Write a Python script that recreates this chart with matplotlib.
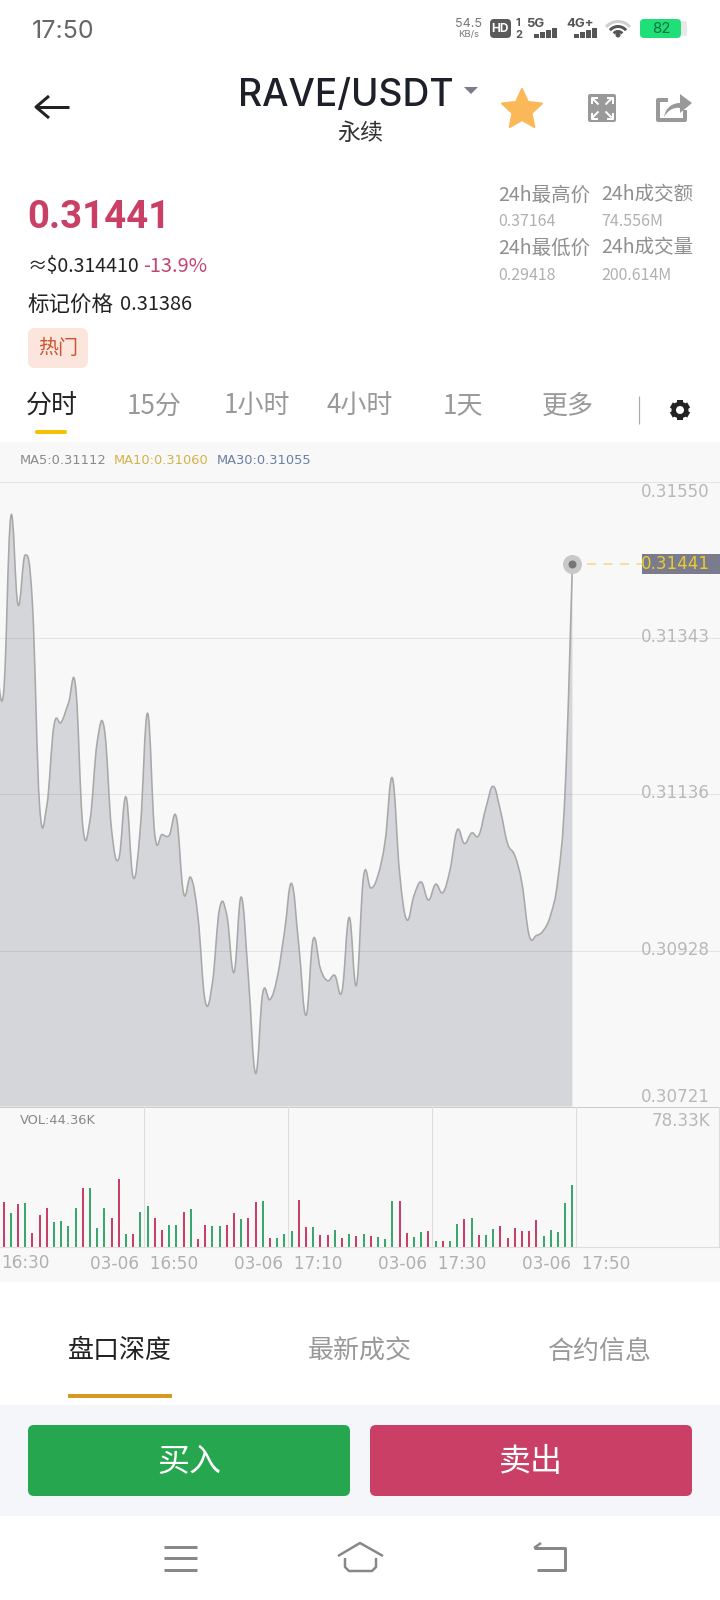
import numpy as np
import matplotlib
matplotlib.use('Agg')
import matplotlib.pyplot as plt
from matplotlib.patches import Rectangle, FancyBboxPatch, Polygon, Circle, PathPatch
from matplotlib.path import Path

CJK = ['Noto Sans CJK SC', 'DejaVu Sans']
plt.rcParams['font.family'] = CJK

# price every minute, first one sits just left of the screen
minutes = list(range(-1, 80))
prices = [0.31314,
          0.31270, 0.31504, 0.31387, 0.31453, 0.31389, 0.31120, 0.31120, 0.31227, 0.31231, 0.31256,
          0.31279, 0.31093, 0.31101, 0.31205, 0.31222, 0.31088, 0.31050, 0.31132, 0.31025, 0.31092,
          0.31243, 0.31082, 0.31082, 0.31081, 0.31105, 0.31004, 0.31025, 0.30972, 0.30861, 0.30885,
          0.30984, 0.30975, 0.30899, 0.30999, 0.30892, 0.30765, 0.30872, 0.30863, 0.30892, 0.30952,
          0.31017, 0.30935, 0.30842, 0.30943, 0.30904, 0.30888, 0.30895, 0.30874, 0.30972, 0.30882,
          0.31027, 0.31011, 0.31028, 0.31074, 0.31157, 0.31031, 0.30969, 0.31001, 0.31019, 0.30995,
          0.31016, 0.31005, 0.31035, 0.31088, 0.31070, 0.31084, 0.31081, 0.31118, 0.31146, 0.31114,
          0.31070, 0.31054, 0.31017, 0.30948, 0.30948, 0.30955, 0.30976, 0.31024, 0.31143, 0.31441]

# volume in K, 1 = red bar, 0 = green bar
volumes = [32.4, 24.7, 30.7, 31.9, 10.3, 22.8, 27.8, 18.0, 18.5, 14.9,
           28.3, 42.4, 42.4, 13.9, 27.8, 20.9, 49.1, 9.1, 9.6, 24.9,
           29.5, 20.9, 12.0, 15.6, 15.6, 24.9, 27.3, 6.0, 16.1, 15.3,
           15.3, 15.6, 24.7, 20.4, 21.1, 32.4, 32.8, 6.2, 6.2, 9.6,
           11.7, 33.6, 14.1, 14.6, 8.6, 8.6, 12.0, 6.2, 9.1, 7.7,
           9.3, 7.7, 7.0, 5.5, 33.3, 33.3, 10.3, 7.0, 11.0, 11.5,
           4.1, 4.3, 4.3, 16.8, 20.4, 21.1, 8.6, 8.9, 12.7, 15.3,
           6.2, 13.7, 11.7, 11.7, 19.2, 7.9, 12.5, 10.5, 31.6, 44.36]
vol_red = [1, 0, 1, 0, 1, 1, 1, 0, 0, 0,
           0, 1, 0, 0, 0, 1, 1, 0, 1, 0,
           0, 1, 1, 0, 0, 1, 0, 1, 1, 0,
           0, 1, 1, 0, 1, 1, 0, 1, 0, 0,
           0, 1, 1, 0, 1, 1, 0, 1, 0, 1,
           0, 1, 0, 0, 0, 1, 1, 0, 0, 1,
           0, 1, 0, 0, 1, 0, 1, 0, 0, 1,
           1, 1, 1, 1, 1, 0, 0, 0, 0, 0]

price_ticks = [0.31550, 0.31343, 0.31136, 0.30928, 0.30721]
price_tick_labels = ['0.31550', '0.31343', '0.31136', '0.30928', '0.30721']
last_price = 0.31441
time_ticks = [19.5, 39.5, 59.5, 79.5]
time_labels = ['03-06  16:50', '03-06  17:10', '03-06  17:30', '03-06  17:50']

RED = '#c93f65'
GREEN = '#27a650'
BAND = '#f8f8f8'
W, H = 720, 1600

fig = plt.figure(figsize=(7.2, 16), dpi=100, facecolor='white')
ui = fig.add_axes([0, 0, 1, 1], zorder=0)
ui.set_xlim(0, W)
ui.set_ylim(H, 0)
ui.axis('off')


def txt(x, y, s, px, color, ha='left', ax=ui, **kw):
    # cjk font sits a bit high when centered
    if 'family' not in kw:
        y = y + 3
    return ax.text(x, y, s, fontsize=px * 0.72, color=color, ha=ha, va='center', **kw)


def pline(xs, ys, color, px=3, **kw):
    ui.plot(xs, ys, color=color, lw=px * 0.72, solid_capstyle=kw.pop('cap', 'butt'), **kw)


def rrect(x0, y0, x1, y1, r, color, zorder=1):
    ui.add_patch(FancyBboxPatch((x0 + r, y0 + r), x1 - x0 - 2 * r, y1 - y0 - 2 * r,
                                boxstyle='round,pad=%f,rounding_size=%f' % (r, r),
                                fc=color, ec='none', zorder=zorder))


# background bands
ui.add_patch(Rectangle((0, 442), W, 840, fc=BAND, ec='none'))
ui.add_patch(Rectangle((0, 1405), W, 111, fc='#f5f6f9', ec='none'))

# status bar
txt(32, 31, '17:50', 25, '#666666', family='Inter')
txt(469, 24, '54.5', 12.5, '#777777', ha='center', family='Inter')
txt(469, 35, 'KB/s', 9.5, '#777777', ha='center', family='Inter')
rrect(490, 19, 511, 38, 4, '#5a5a5a')
txt(500.5, 29, 'HD', 12, 'white', ha='center', family='Inter', weight='bold')
txt(515, 23, '1', 11, '#555555', ha='left', family='Inter', weight='bold')
txt(515, 35, '2', 11, '#555555', ha='left', family='Inter', weight='bold')
txt(526, 24, '5G', 13, '#555555', family='Inter', weight='bold')
txt(566, 24, '4G+', 13, '#555555', family='Inter', weight='bold')
for x0 in [534, 574]:
    for k, h in enumerate([4, 6, 8, 10]):
        ui.add_patch(Rectangle((x0 + k * 6, 38 - h), 4.5, h, fc='#555555', ec='none'))
for r, c in [(15.5, '#cfcfcf'), (10.5, '#555555'), (5.5, '#555555')]:
    a = np.radians(np.linspace(-140, -40, 30))
    pline(618 + r * np.cos(a), 37 + r * np.sin(a), c, px=3)
ui.add_patch(Circle((618, 35), 2.5, fc='#555555', ec='none'))
rrect(640, 19, 681, 38, 4, '#1fdf78')
rrect(681, 21, 687, 36, 2, '#e8e8e8')
txt(661.5, 29, '82', 15, '#10703f', ha='center', family='Inter')

# title row
arrow_c = '#222222'
pline([36, 69], [107, 107], arrow_c, px=3)
pline([49, 36, 49], [96, 107, 118], arrow_c, px=3)
txt(238, 96, 'RAVE/USDT', 37.2, '#1e2029', family='Inter', weight='medium')
txt(360, 130, '永续', 23, '#333333', ha='center')
ui.add_patch(Polygon([(464, 87), (478, 87), (471, 94)], fc='#7b7b8b', ec='none'))
ang = np.radians(-90 + 36 * np.arange(10))
rad = np.where(np.arange(10) % 2 == 0, 21, 10)
ui.add_patch(Polygon(np.c_[522 + rad * np.cos(ang), 110 + rad * np.sin(ang)],
                     fc='#fbb858', ec='#fbb858', lw=1.5, joinstyle='round'))
# expand icon
rrect(588, 94, 616, 122, 2, '#999999')
for sx, sy in [(-1, -1), (1, -1), (-1, 1), (1, 1)]:
    cx, cy = 602 + 10.5 * sx, 108 + 10.5 * sy
    pline([cx - 6 * sx, cx, cx], [cy, cy, cy - 6 * sy], 'white', px=2)
    pline([cx - 1 * sx, cx - 7 * sx], [cy - 1 * sy, cy - 7 * sy], 'white', px=2)
# share icon
pline([668, 658, 658, 685, 685], [100, 100, 120, 120, 110], '#999999', px=4)
ui.add_patch(PathPatch(Path([(664, 117), (666, 106), (674, 103), (680, 103), (680, 94), (692, 103),
                             (680, 113), (680, 108), (674, 107), (668, 110), (664, 117)],
                            [Path.MOVETO, Path.CURVE4, Path.CURVE4, Path.CURVE4, Path.LINETO, Path.LINETO,
                             Path.LINETO, Path.LINETO, Path.CURVE4, Path.CURVE4, Path.CURVE4]),
                       fc='#999999', ec='none'))

# price block
txt(27.5, 217, '0.31441', 38.3, RED, family='Roboto', weight='bold')
txt(28, 264, '≈$0.314410', 19.5, '#222222')
txt(143, 264, '-13.9%', 20, '#c4466e')
txt(28, 302, '标记价格', 21.5, '#222222')
txt(120, 302, '0.31386', 20, '#222222')
rrect(28, 328, 88, 368, 7, '#fbe5dd')
txt(58, 346, '热门', 20, '#c9562f', ha='center')

# 24h stats
for x, lab, val, yl, yv in [(498, '24h最高价', '0.37164', 192, 219), (601, '24h成交额', '74.556M', 192, 219),
                            (498, '24h最低价', '0.29418', 245, 272), (601, '24h成交量', '200.614M', 245, 272)]:
    txt(x, yl, lab, 19.5, '#8f8f8f')
    txt(x, yv, val, 16, '#b0b0b0')

# period tabs
for cx, lab, c in [(51.5, '分时', '#222222'), (154, '15分', '#999999'), (257.5, '1小时', '#999999'),
                   (360, '4小时', '#999999'), (463, '1天', '#999999'), (567.5, '更多', '#999999')]:
    txt(cx, 403, lab, 26, c, ha='center')
rrect(35, 430, 67, 434, 2, '#f6c000')
pline([639, 639], [396, 424], '#aaaaaa', px=1.2)
# gear
for a in np.radians(30 + 60 * np.arange(3)):
    pline([680 - 10 * np.cos(a), 680 + 10 * np.cos(a)], [410 - 10 * np.sin(a), 410 + 10 * np.sin(a)], '#222222', px=6)
ui.add_patch(Circle((680, 410), 8.5, fc='#222222', ec='none', zorder=3))
ui.add_patch(Circle((680, 410), 4, fc='white', ec='none', zorder=4))

# MA legend
txt(20, 461, 'MA5:0.31112', 13, '#8a8a8a', family='DejaVu Sans')
txt(114, 461, 'MA10:0.31060', 13, '#d4b24a', family='DejaVu Sans')
txt(217, 461, 'MA30:0.31055', 13, '#6a7fa6', family='DejaVu Sans')

# price chart, x axis in minutes: 100 slots over the screen width
ax = fig.add_axes([0, 1 - 1106.5 / H, 1, 624.5 / H], zorder=1)
ax.set_facecolor('none')
ax.set_xlim(-0.5, 99.5)
ax.set_ylim(price_ticks[-1], price_ticks[0])
ax.set_xticks([])
ax.set_yticks([])
for s in ax.spines.values():
    s.set_visible(False)

# cubic line same way as the phone chart lib does it
x = np.array(minutes, dtype=float)
y = np.array(prices)
I = 0.2
verts = [(x[0], y[0])]
codes = [Path.MOVETO]
for j in range(1, len(x)):
    pp = max(j - 2, 0)
    nx = min(j + 1, len(x) - 1)
    verts.append((x[j - 1] + (x[j] - x[pp]) * I, y[j - 1] + (y[j] - y[pp]) * I))
    verts.append((x[j] - (x[nx] - x[j - 1]) * I, y[j] - (y[nx] - y[j - 1]) * I))
    verts.append((x[j], y[j]))
    codes += [Path.CURVE4] * 3
bottom = price_ticks[-1]
fill_path = Path(verts + [(x[-1], bottom), (x[0], bottom), (x[0], y[0])],
                 codes + [Path.LINETO, Path.LINETO, Path.LINETO])
ax.add_patch(PathPatch(fill_path, fc='#d5d6da', ec='none', zorder=1))
ax.add_patch(PathPatch(Path(verts, codes), fc='none', ec='#a8a8a8', lw=1.6 * 0.72, zorder=3))

for p, lab in zip(price_ticks, price_tick_labels):
    ax.axhline(p, color='#000000', alpha=0.08, lw=1 * 0.72, zorder=2, clip_on=False)
    off = -10 if p == price_ticks[0] else (10 if p == price_ticks[-1] else 1)
    ax.annotate(lab, xy=(1, p), xycoords=('axes fraction', 'data'), xytext=(-10, off), textcoords='offset pixels',
                ha='right', va='center', fontsize=16.7 * 0.72, color='#b8b8b8', family='DejaVu Sans')

# last price marker
ax.plot([x[-1]], [last_price], 'o', ms=19 * 0.72, mfc='#c8c8c8', mec='none', zorder=4)
ax.plot([x[-1]], [last_price], 'o', ms=8 * 0.72, mfc='#777777', mec='none', zorder=5)
ax.plot([x[-1] + 2, 88.7], [last_price, last_price], color='#f0d97a', lw=1.5 * 0.72, dashes=(6, 5), zorder=3)
ui.add_patch(Rectangle((642, 554), 78, 20, fc='#7b7b8e', ec='none', zorder=2))
ax.annotate('%.5f' % last_price, xy=(1, last_price), xycoords=('axes fraction', 'data'), xytext=(-10, 0),
            textcoords='offset pixels', ha='right', va='center', fontsize=16.7 * 0.72, color='#e8cc30',
            family='DejaVu Sans', zorder=6)

# volume panel
vol = fig.add_axes([0, 1 - 1247 / H, 1, 140 / H], zorder=1)
vol.set_facecolor('none')
vol.set_xlim(-0.5, 99.5)
vol.set_ylim(0, 100.7)
for s in ['top', 'left', 'right']:
    vol.spines[s].set_visible(False)
vol.spines['bottom'].set_color('#dddddd')
vol.set_yticks([])
vol.set_xticks(time_ticks)
vol.set_xticklabels(time_labels)
vol.tick_params(axis='x', length=0, pad=6, labelsize=16.9 * 0.72, labelcolor='#b0b0b0')
for t in vol.get_xticklabels():
    t.set_family('DejaVu Sans')
for t in time_ticks + [99.4]:
    vol.axvline(t, color='#dddddd', lw=1 * 0.72, zorder=1)
bar_colors = [RED if r else '#3aa76d' for r in vol_red]
vol.bar(minutes[1:], volumes, width=0.26, color=bar_colors, zorder=2)
txt(1, 1263, '16:30', 16.9, '#b0b0b0', family='DejaVu Sans')
txt(20, 1121, 'VOL:44.36K', 13, '#888888', family='DejaVu Sans')
txt(710, 1121, '78.33K', 16.7, '#b8b8b8', ha='right', family='DejaVu Sans')
ui.plot([0, W], [1107, 1107], color='#dddddd', lw=0.72)

# lower tabs
for cx, lab, c in [(120, '盘口深度', '#222222'), (360, '最新成交', '#999999'), (600, '合约信息', '#999999')]:
    txt(cx, 1348, lab, 26, c, ha='center')
ui.add_patch(Rectangle((68, 1394), 104, 4, fc='#d89a1e', ec='none'))

# buy / sell
rrect(28, 1425, 350, 1496, 6, GREEN)
rrect(370, 1425, 692, 1496, 6, RED)
txt(189, 1459, '买入', 32, 'white', ha='center')
txt(531, 1459, '卖出', 32, 'white', ha='center')

# nav bar
nav = '#888888'
for yy in [1547, 1558, 1570]:
    pline([164, 197], [yy, yy], nav, px=3)
pline([338, 360, 383], [1556, 1543, 1556], nav, px=2.5)
pline([345, 345, 349, 372, 376, 376], [1558, 1567, 1571, 1571, 1567, 1558], nav, px=2.5)
pline([534, 565, 565, 537], [1548, 1548, 1570, 1570], nav, px=3)
pline([534, 541], [1548, 1543], nav, px=2.5)

fig.savefig('out.png', dpi=100, facecolor='white')
